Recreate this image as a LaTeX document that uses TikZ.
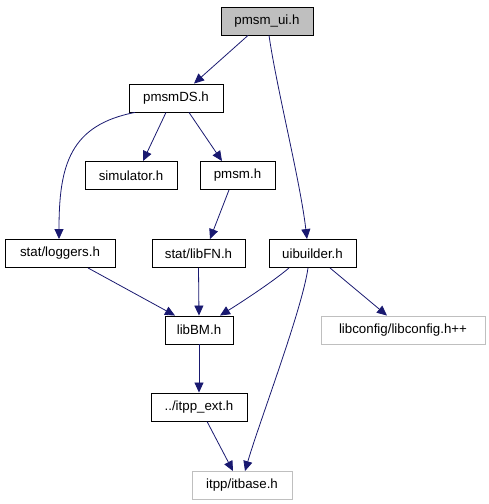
\documentclass[tikz,border=0pt]{standalone}
\usepackage{fontspec}
\setmainfont{Liberation Sans}
\usetikzlibrary{arrows.meta}
\definecolor{edgeblue}{HTML}{191970}
\definecolor{boxgray}{HTML}{BFBFBF}
\tikzset{
  file/.style={draw, rectangle, line width=0.9pt, inner sep=0pt, minimum height=28pt,
    font=\fontsize{13.3}{16}\selectfont},
  extfile/.style={file, draw=boxgray},
  dep/.style={draw=edgeblue, line width=0.8pt, -{Triangle[length=10pt,width=9pt]}, fill=none},
}
\begin{document}
\begin{tikzpicture}[x=1pt, y=-1pt, >=Triangle]
    \useasboundingbox (0,0) rectangle (489,504);

    % ノードを置く
    \node[file, fill=boxgray, minimum width=92pt] (pmsmui) at (267, 21) {pmsm\_ui.h};
    \node[file, minimum width=94pt] (pmsmDS) at (176, 98) {pmsmDS.h};
    \node[file, minimum width=92pt] (simulator) at (131, 175.5) {simulator.h};
    \node[file, minimum width=75pt] (pmsm) at (237.5, 175.5) {pmsm.h};
    \node[file, minimum width=110pt] (loggers) at (60, 253.5) {stat/loggers.h};
    \node[file, minimum width=93pt] (libFN) at (198.5, 253.5) {stat/libFN.h};
    \node[file, minimum width=87pt] (uibuilder) at (312.5, 253.5) {uibuilder.h};
    \node[file, minimum width=68pt] (libBM) at (199, 330) {libBM.h};
    \node[extfile, minimum width=164pt] (libconfig) at (403, 330) {libconfig/libconfig.h++};
    \node[file, minimum width=96pt] (itppext) at (199, 407) {../itpp\_ext.h};
    \node[extfile, minimum width=100pt] (itbase) at (242, 485.5) {itpp/itbase.h};

    % 矢印を引く
    \draw[dep] ([xshift=-19pt]pmsmui.south) -- ([xshift=18pt]pmsmDS.north);
    \draw[dep] ([xshift=2pt]pmsmui.south) .. controls (277, 90) and (300, 180) .. ([xshift=-5.5pt]uibuilder.north);
    \draw[dep] ([xshift=-41pt]pmsmDS.south) .. controls (70, 125) and (59, 165) .. ([xshift=-1pt]loggers.north);
    \draw[dep] ([xshift=-10pt]pmsmDS.south) -- ([xshift=12pt]simulator.north);
    \draw[dep] ([xshift=13pt]pmsmDS.south) -- ([xshift=-15.5pt]pmsm.north);
    \draw[dep] ([xshift=-8.5pt]pmsm.south) -- ([xshift=11.5pt]libFN.north);
    \draw[dep] ([xshift=28pt]loggers.south) -- ([xshift=-24pt]libBM.north);
    \draw[dep] (libFN.south) -- (libBM.north);
    \draw[dep] ([xshift=-23.5pt]uibuilder.south) .. controls (275, 280) and (245, 300) .. ([xshift=21pt]libBM.north);
    \draw[dep] ([xshift=-4.5pt]uibuilder.south) .. controls (302, 310) and (260, 420) .. ([xshift=3pt]itbase.north);
    \draw[dep] ([xshift=17.5pt]uibuilder.south) -- ([xshift=-16pt]libconfig.north);
    \draw[dep] (libBM.south) -- (itppext.north);
    \draw[dep] ([xshift=8pt]itppext.south) -- ([xshift=-9pt]itbase.north);
  \end{tikzpicture}
\end{document}
